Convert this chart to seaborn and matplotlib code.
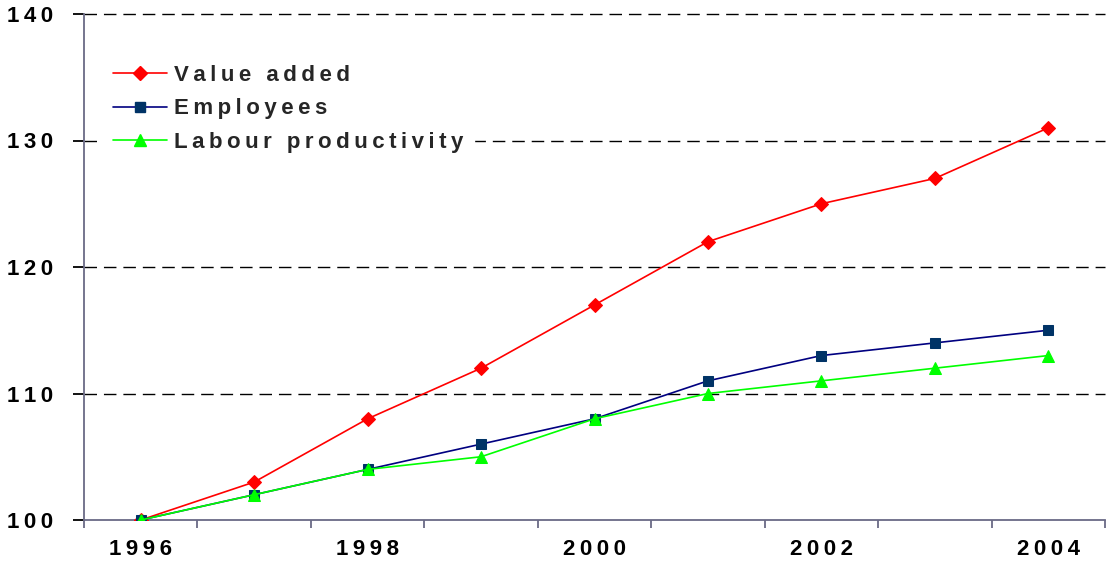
import matplotlib
matplotlib.use("Agg")
import matplotlib.pyplot as plt
import seaborn as sns
import pandas as pd
from matplotlib.ticker import FixedLocator
from matplotlib.lines import Line2D

years = [1996, 1997, 1998, 1999, 2000, 2001, 2002, 2003, 2004]
value_added = [100, 103, 108, 112, 117, 122, 125, 127, 131]
employees = [100, 102, 104, 106, 108, 111, 113, 114, 115]
labour_productivity = [100, 102, 104, 105, 108, 110, 111, 112, 113]

series_names = ["Value added", "Employees", "Labour productivity"]
year_ticks = [1996, 1998, 2000, 2002, 2004]
y_ticks = [100, 110, 120, 130, 140]

THIN = "\u2009"


def spaced(s):
    # wide letter spacing, as in the axis and legend texts
    return THIN.join(s)


df = pd.DataFrame({
    "year": years * 3,
    "index": value_added + employees + labour_productivity,
    "series": [series_names[0]] * len(years)
    + [series_names[1]] * len(years)
    + [series_names[2]] * len(years),
})

sns.set_theme(style="white")
plt.rcParams["font.family"] = ["Liberation Sans", "DejaVu Sans"]
plt.rcParams["font.weight"] = "bold"

fig = plt.figure(figsize=(11.09, 5.67), dpi=100)
ax = fig.add_axes([84 / 1109, 1 - 520 / 567, (1105 - 84) / 1109, (520 - 14) / 567])

palette = {"Value added": "#FF0000", "Employees": "#000080", "Labour productivity": "#00FF00"}
markers = {"Value added": "D", "Employees": "s", "Labour productivity": "^"}
marker_fill = {"Value added": "#FF0000", "Employees": "#003366", "Labour productivity": "#00FF00"}
marker_size = {"Value added": 7, "Employees": 7, "Labour productivity": 8}

sns.lineplot(data=df, x="year", y="index", hue="series", style="series",
             palette=palette, markers=markers, dashes=False, ax=ax,
             linewidth=1.2, markersize=7, legend=False, zorder=3)

# marker fills per series
color_to_name = {v.lower(): k for k, v in palette.items()}
for line in ax.get_lines():
    name = color_to_name.get(matplotlib.colors.to_hex(line.get_color()).lower())
    if name is None:
        continue
    line.set_markerfacecolor(marker_fill[name])
    line.set_markeredgecolor(marker_fill[name])
    line.set_markersize(marker_size[name])

ax.set_xlim(1995.5, 2004.5)
ax.set_ylim(100, 140)

# horizontal dashed gridlines
for v in y_ticks[1:]:
    ax.axhline(v, color="black", linewidth=1.0, linestyle=(0, (9, 5)), zorder=1, clip_on=False)

axis_col = "#6A6A86"
for side in ["top", "right"]:
    ax.spines[side].set_visible(False)
for side in ["left", "bottom"]:
    ax.spines[side].set_color(axis_col)
    ax.spines[side].set_linewidth(1.3)

fs = 16
ax.set_xticks(year_ticks)
ax.set_xticklabels([spaced(str(y)) for y in year_ticks], fontsize=fs, fontweight="bold")
ax.xaxis.set_minor_locator(FixedLocator([y - 0.5 for y in years] + [years[-1] + 0.5]))
ax.tick_params(axis="x", which="major", length=0, pad=14, colors="black")
ax.tick_params(axis="x", which="minor", length=6, width=1.3, color=axis_col, direction="out", bottom=True)

ax.set_yticks(y_ticks)
ax.set_yticklabels([spaced(str(v)) for v in y_ticks], fontsize=fs, fontweight="bold")
ax.tick_params(axis="y", which="major", length=8, width=1.3, direction="out", left=True, pad=14, colors="black")
for t in ax.get_yticklines():
    t.set_color(axis_col)
for t in ax.xaxis.get_minorticklines():
    t.set_color(axis_col)

ax.set_xlabel("")
ax.set_ylabel("")

handles = []
for name in series_names:
    handles.append(Line2D([], [], color=palette[name], marker=markers[name], linewidth=1.2,
                          markersize=marker_size[name], markerfacecolor=marker_fill[name],
                          markeredgecolor=marker_fill[name]))
labels = [spaced(n) for n in series_names]
leg = ax.legend(handles, labels,
                loc="upper left", bbox_to_anchor=(0.0176, 0.921), borderaxespad=0,
                frameon=True, fancybox=False, framealpha=1.0, edgecolor="white", facecolor="white",
                handlelength=2.42, handletextpad=0.31, labelspacing=0.55,
                prop={"size": fs, "weight": "bold"}, borderpad=0.5)
leg.set_zorder(5)

fig.savefig("out.png", dpi=100)
